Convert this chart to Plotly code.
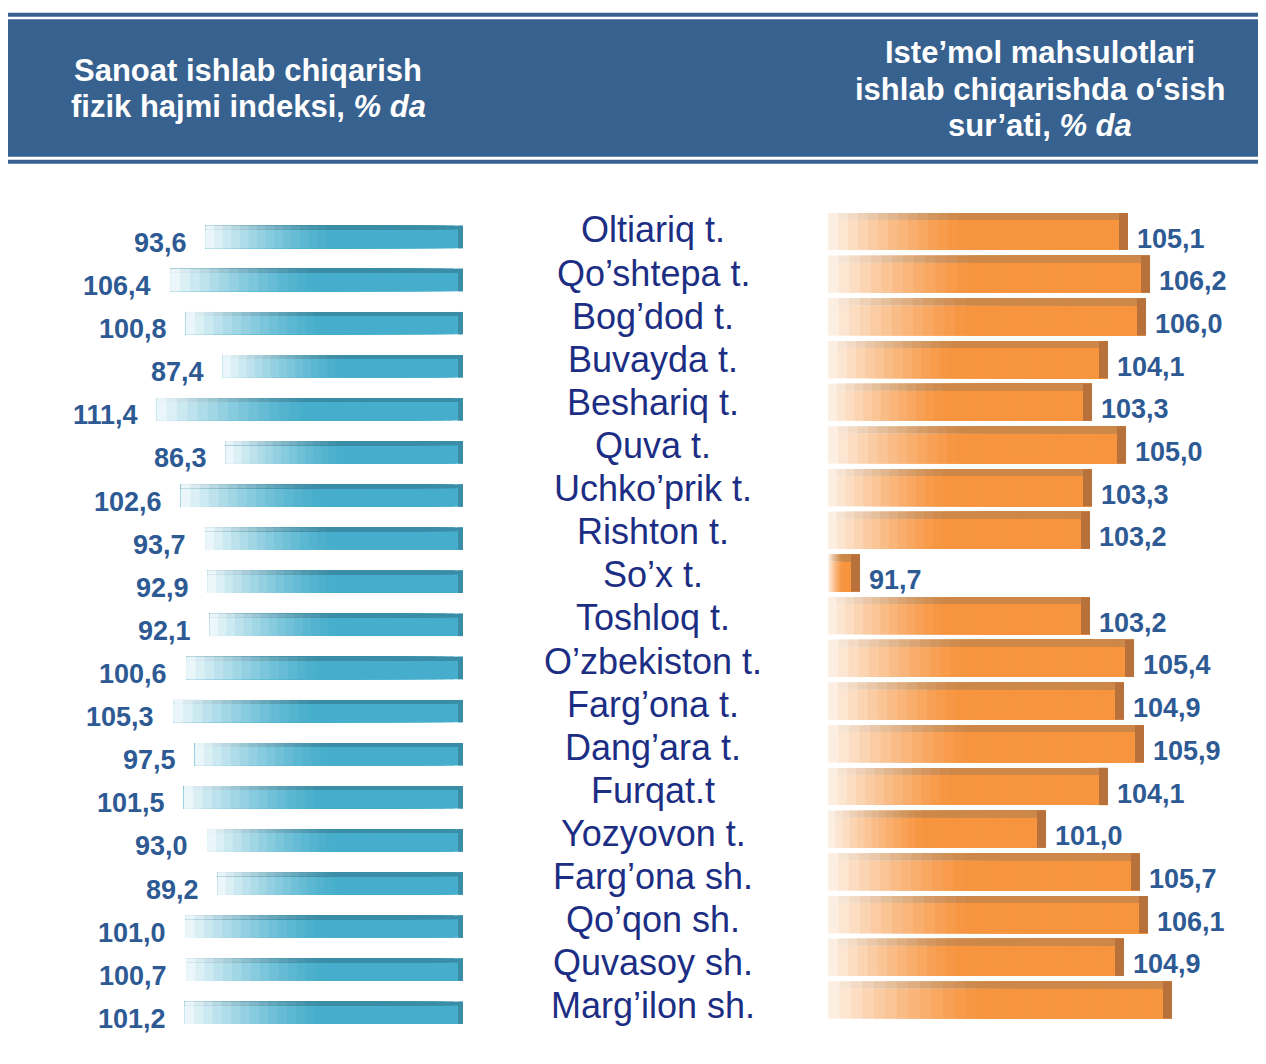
import plotly.graph_objects as go

# ---------------- data ----------------
categories = [
    "Oltiariq t.", "Qo’shtepa t.", "Bog’dod t.", "Buvayda t.", "Beshariq t.",
    "Quva t.", "Uchko’prik t.", "Rishton t.", "So’x t.", "Toshloq t.",
    "O’zbekiston t.", "Farg’ona t.", "Dang’ara t.", "Furqat.t", "Yozyovon t.",
    "Farg’ona sh.", "Qo’qon sh.", "Quvasoy sh.", "Marg’ilon sh.",
]
industry_index = [93.6, 106.4, 100.8, 87.4, 111.4, 86.3, 102.6, 93.7, 92.9, 92.1,
                  100.6, 105.3, 97.5, 101.5, 93.0, 89.2, 101.0, 100.7, 101.2]
consumer_growth = [105.1, 106.2, 106.0, 104.1, 103.3, 105.0, 103.3, 103.2, 91.7, 103.2,
                   105.4, 104.9, 105.9, 104.1, 101.0, 105.7, 106.1, 104.9, 107.3]
consumer_label_shown = [True] * 18 + [False]

left_title_lines = ["<b>Sanoat ishlab chiqarish</b>", "<b>fizik hajmi indeksi, <i>% da</i></b>"]
right_title_lines = ["<b>Iste’mol mahsulotlari</b>", "<b>ishlab chiqarishda o‘sish</b>",
                     "<b>sur’ati, <i>% da</i></b>"]

# ---------------- style ----------------
PAGE_OFF = 8             # default body margin of the html page
W, H = 1266 - PAGE_OFF, 1064 - 2 * PAGE_OFF
HEADER = "#37618F"
VAL_COLOR = "#2E5A94"
CAT_COLOR = "#1C2E84"
FONT = "Arial, Liberation Sans, sans-serif"
RIGHT_BASE = 90.1
N_SEG = 30


def hex2rgb(h):
    h = h.lstrip("#")
    return tuple(int(h[i:i + 2], 16) for i in (0, 2, 4))


def mix(c1, c2, t):
    a, b = hex2rgb(c1), hex2rgb(c2)
    return "rgb(%d,%d,%d)" % tuple(round(a[i] + (b[i] - a[i]) * t) for i in range(3))


def px(x):
    return (x - PAGE_OFF) / W


def py(y):
    return 1 - (y - PAGE_OFF) / H


fig = go.Figure()

# ---- left bars (blue, grow leftwards, fade at far end) ----
BLUE, BLUE_LIGHT, BLUE_DARK = "#46AECC", "#F2FAFC", "#3A8DA6"
LW = 0.52
L_PX_PER_UNIT = 2.75
for width, c_solid in ((LW, BLUE), (0.09, BLUE_DARK)):
    for k in range(N_SEG):
        f0 = k / N_SEG
        fm = (k + 0.5) / N_SEG
        t = 0 if fm < 0.5 else ((fm - 0.5) / 0.5) ** 1.4
        fig.add_trace(go.Bar(
            y=categories, x=[v * (1 - f0) for v in industry_index],
            base=[v * f0 for v in industry_index], orientation="h",
            width=width, offset=-LW / 2,
            marker=dict(color=mix(c_solid, BLUE_LIGHT, t), line_width=0),
            xaxis="x", yaxis="y", showlegend=False, hoverinfo="skip"))
fig.add_trace(go.Bar(
    y=categories, x=[1.8] * len(categories), base=[0] * len(categories), orientation="h",
    width=LW, offset=-LW / 2, marker=dict(color=BLUE_DARK, line_width=0),
    xaxis="x", yaxis="y", showlegend=False, hoverinfo="skip"))

# ---- right bars (orange, grow rightwards, fade near base) ----
ORANGE, ORANGE_LIGHT, ORANGE_DARK, ORANGE_CAP = "#F7943E", "#FDF3EA", "#CD8748", "#B8713A"
RW = 0.87
for width, c_solid in ((RW, ORANGE), (0.16, ORANGE_DARK)):
    for k in range(N_SEG):
        f0 = k / N_SEG
        fm = (k + 0.5) / N_SEG
        t = 0 if fm > 0.45 else (1 - fm / 0.45) ** 1.3
        fig.add_trace(go.Bar(
            y=categories, x=[(v - RIGHT_BASE) * (1 - f0) for v in consumer_growth],
            base=[RIGHT_BASE + (v - RIGHT_BASE) * f0 for v in consumer_growth], orientation="h",
            width=width, offset=-RW / 2,
            marker=dict(color=mix(c_solid, ORANGE_LIGHT, t), line_width=0),
            xaxis="x2", yaxis="y2", showlegend=False, hoverinfo="skip"))
fig.add_trace(go.Bar(
    y=categories, x=[0.45] * len(categories), base=[v - 0.45 for v in consumer_growth],
    orientation="h", width=RW, offset=-RW / 2, marker=dict(color=ORANGE_CAP, line_width=0),
    xaxis="x2", yaxis="y2", showlegend=False, hoverinfo="skip"))

annotations = []


def fmt(v):
    return f"{v:.1f}".replace(".", ",")


for c, v in zip(categories, industry_index):
    annotations.append(dict(x=v, y=c, xref="x", yref="y", text=f"<b>{fmt(v)}</b>",
                            showarrow=False, xanchor="right", yanchor="middle",
                            xshift=-17, yshift=-6,
                            font=dict(family=FONT, size=27, color=VAL_COLOR)))
for c, v, show in zip(categories, consumer_growth, consumer_label_shown):
    if show:
        annotations.append(dict(x=v, y=c, xref="x2", yref="y2", text=f"<b>{fmt(v)}</b>",
                                showarrow=False, xanchor="left", yanchor="middle",
                                xshift=7, yshift=-7,
                                font=dict(family=FONT, size=27, color=VAL_COLOR)))
for c in categories:
    annotations.append(dict(x=px(653), y=c, xref="paper", yref="y", text=c,
                            showarrow=False, xanchor="center", yanchor="middle", yshift=7,
                            font=dict(family=FONT, size=36, color=CAT_COLOR)))

for line, yy in zip(left_title_lines, (70, 107)):
    annotations.append(dict(x=px(248), y=py(yy), xref="paper", yref="paper", text=line,
                            showarrow=False, xanchor="center", yanchor="middle",
                            font=dict(family=FONT, size=31, color="white")))
for line, yy in zip(right_title_lines, (52, 89, 125)):
    annotations.append(dict(x=px(1040), y=py(yy), xref="paper", yref="paper", text=line,
                            showarrow=False, xanchor="center", yanchor="middle",
                            font=dict(family=FONT, size=31, color="white")))

shapes = [
    dict(type="rect", xref="paper", yref="paper", x0=px(8), x1=1, y0=py(16.7), y1=py(12.7),
         fillcolor=HEADER, line_width=0, layer="below"),
    dict(type="rect", xref="paper", yref="paper", x0=px(8), x1=1, y0=py(156.7), y1=py(19.3),
         fillcolor=HEADER, line_width=0, layer="below"),
    dict(type="rect", xref="paper", yref="paper", x0=px(8), x1=1, y0=py(163.7), y1=py(159.7),
         fillcolor=HEADER, line_width=0, layer="below"),
]

n = len(categories)
fig.update_layout(
    width=W, height=H, margin=dict(l=0, r=0, t=0, b=0),
    paper_bgcolor="white", plot_bgcolor="rgba(0,0,0,0)",
    barmode="overlay", showlegend=False,
    xaxis=dict(domain=[0, px(463)], range=[(463 - PAGE_OFF) / L_PX_PER_UNIT, 0],
               visible=False, anchor="y"),
    yaxis=dict(domain=[py(1034.4), py(215.4)], type="category", categoryorder="array",
               categoryarray=categories, range=[n - 0.5, -0.5], visible=False, anchor="x"),
    xaxis2=dict(domain=[px(828), 1], range=[RIGHT_BASE, RIGHT_BASE + (1266 - 828) / 20],
                visible=False, anchor="y2"),
    yaxis2=dict(domain=[py(1021.3), py(210.2)], type="category", categoryorder="array",
                categoryarray=categories, range=[n - 0.5, -0.5], visible=False, anchor="x2"),
    annotations=annotations, shapes=shapes,
)

fig.write_html("out.html")
